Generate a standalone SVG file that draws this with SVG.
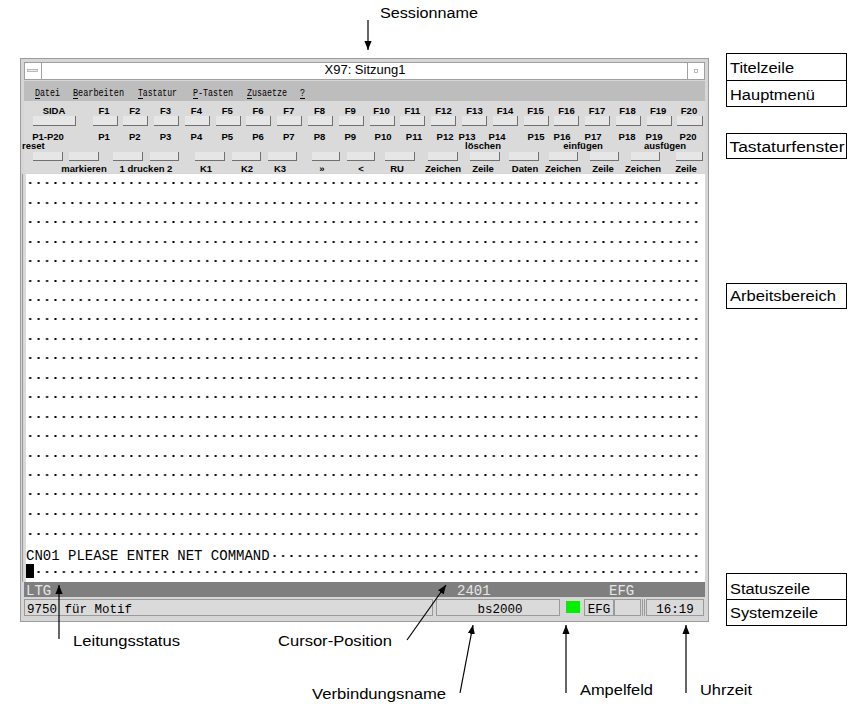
<svg xmlns="http://www.w3.org/2000/svg" width="852" height="704" viewBox="0 0 852 704">
<defs>
<style>
.lbl{font-family:"Liberation Sans",Arial,sans-serif;font-size:14px;fill:#000}
.box{fill:#fff;stroke:#000;stroke-width:1}
.menu{font-family:"Liberation Mono","DejaVu Sans Mono",monospace;font-size:11px;fill:#000}
.key{font-family:"Liberation Sans",Arial,sans-serif;font-size:9.5px;font-weight:bold;fill:#000;text-anchor:middle}
.term{font-family:"Liberation Mono","DejaVu Sans Mono",monospace;font-size:14px}
.sys{font-family:"Liberation Mono","DejaVu Sans Mono",monospace;font-size:12.5px;fill:#000}
.bd{fill:#707070}
.bf{fill:#e6e6e6}
.fld{fill:#dadada;stroke:#9a9a9a;stroke-width:1}
.conn{stroke:#000;stroke-width:1.2;fill:none;marker-end:url(#ah)}
</style>
<marker id="ah" viewBox="0 0 10 8" refX="10" refY="4" markerWidth="9" markerHeight="7.2" markerUnits="userSpaceOnUse" orient="auto">
<path d="M0,0 L10,4 L0,8 z" fill="#000"/>
</marker>
<pattern id="col" patternUnits="userSpaceOnUse" x="26" y="0" width="8.43" height="1">
<rect x="3.2" y="0" width="2" height="1" fill="#000"/>
</pattern>
</defs>
<rect width="852" height="704" fill="#fff"/>

<g id="window">
<rect x="20.5" y="58.5" width="688" height="563" fill="#d6d6d6" stroke="#9c9c9c"/>
<rect x="24.5" y="62.5" width="680" height="17" fill="#fff" stroke="#a0a0a0"/>
<rect x="24.5" y="62.5" width="17" height="17" fill="#fff" stroke="#a0a0a0"/>
<rect x="27.5" y="69.5" width="10" height="2" fill="#eee" stroke="#aaa" stroke-width="0.8"/>
<rect x="687.5" y="62.5" width="17" height="17" fill="#fff" stroke="#a0a0a0"/>
<rect x="694.5" y="69.5" width="3" height="3" fill="#fff" stroke="#aaa" stroke-width="0.8"/>
<text x="365" y="74" font-family="Liberation Sans, Arial, sans-serif" font-size="13" text-anchor="middle">X97: Sitzung1</text>
<rect x="24" y="81" width="681" height="20" fill="#bdbdbd"/>
<text class="menu" x="35" y="96" textLength="25" lengthAdjust="spacingAndGlyphs">Datei</text>
<text class="menu" x="73" y="96" textLength="51" lengthAdjust="spacingAndGlyphs">Bearbeiten</text>
<text class="menu" x="138" y="96" textLength="39" lengthAdjust="spacingAndGlyphs">Tastatur</text>
<text class="menu" x="193" y="96" textLength="40" lengthAdjust="spacingAndGlyphs">P-Tasten</text>
<text class="menu" x="247" y="96" textLength="40" lengthAdjust="spacingAndGlyphs">Zusaetze</text>
<text class="menu" x="300" y="96" textLength="5" lengthAdjust="spacingAndGlyphs">?</text>
<path d="M35,98.5h5M73,98.5h5M138,98.5h5M193,98.5h5M247,98.5h5M300,98.5h5" stroke="#000" stroke-width="1"/>
<rect x="24" y="101" width="681" height="72" fill="#dadada"/>
<g id="keys-row1">
<text class="key" x="54" y="113.5">SIDA</text>
<text class="key" x="104" y="113.5">F1</text>
<text class="key" x="134.8" y="113.5">F2</text>
<text class="key" x="165.6" y="113.5">F3</text>
<text class="key" x="196.4" y="113.5">F4</text>
<text class="key" x="227.2" y="113.5">F5</text>
<text class="key" x="258" y="113.5">F6</text>
<text class="key" x="288.7" y="113.5">F7</text>
<text class="key" x="319.5" y="113.5">F8</text>
<text class="key" x="350.3" y="113.5">F9</text>
<text class="key" x="381.5" y="113.5">F10</text>
<text class="key" x="412.5" y="113.5">F11</text>
<text class="key" x="443.5" y="113.5">F12</text>
<text class="key" x="474.5" y="113.5">F13</text>
<text class="key" x="505" y="113.5">F14</text>
<text class="key" x="535.5" y="113.5">F15</text>
<text class="key" x="566.5" y="113.5">F16</text>
<text class="key" x="597" y="113.5">F17</text>
<text class="key" x="627.5" y="113.5">F18</text>
<text class="key" x="658.2" y="113.5">F19</text>
<text class="key" x="689" y="113.5">F20</text>
<rect class="bd" x="33" y="116" width="43" height="10"/><rect class="bf" x="33" y="116" width="42" height="9"/>
<rect class="bd" x="93" y="116" width="25" height="10"/><rect class="bf" x="93" y="116" width="24" height="9"/>
<rect class="bd" x="123" y="116" width="25" height="10"/><rect class="bf" x="123" y="116" width="24" height="9"/>
<rect class="bd" x="154" y="116" width="25" height="10"/><rect class="bf" x="154" y="116" width="24" height="9"/>
<rect class="bd" x="185" y="116" width="25" height="10"/><rect class="bf" x="185" y="116" width="24" height="9"/>
<rect class="bd" x="216" y="116" width="25" height="10"/><rect class="bf" x="216" y="116" width="24" height="9"/>
<rect class="bd" x="246" y="116" width="25" height="10"/><rect class="bf" x="246" y="116" width="24" height="9"/>
<rect class="bd" x="277" y="116" width="25" height="10"/><rect class="bf" x="277" y="116" width="24" height="9"/>
<rect class="bd" x="308" y="116" width="25" height="10"/><rect class="bf" x="308" y="116" width="24" height="9"/>
<rect class="bd" x="339" y="116" width="25" height="10"/><rect class="bf" x="339" y="116" width="24" height="9"/>
<rect class="bd" x="370" y="116" width="25" height="10"/><rect class="bf" x="370" y="116" width="24" height="9"/>
<rect class="bd" x="400" y="116" width="25" height="10"/><rect class="bf" x="400" y="116" width="24" height="9"/>
<rect class="bd" x="431" y="116" width="25" height="10"/><rect class="bf" x="431" y="116" width="24" height="9"/>
<rect class="bd" x="462" y="116" width="25" height="10"/><rect class="bf" x="462" y="116" width="24" height="9"/>
<rect class="bd" x="493" y="116" width="25" height="10"/><rect class="bf" x="493" y="116" width="24" height="9"/>
<rect class="bd" x="524" y="116" width="25" height="10"/><rect class="bf" x="524" y="116" width="24" height="9"/>
<rect class="bd" x="554" y="116" width="25" height="10"/><rect class="bf" x="554" y="116" width="24" height="9"/>
<rect class="bd" x="585" y="116" width="25" height="10"/><rect class="bf" x="585" y="116" width="24" height="9"/>
<rect class="bd" x="616" y="116" width="25" height="10"/><rect class="bf" x="616" y="116" width="24" height="9"/>
<rect class="bd" x="647" y="116" width="25" height="10"/><rect class="bf" x="647" y="116" width="24" height="9"/>
<rect class="bd" x="677" y="116" width="26" height="10"/><rect class="bf" x="677" y="116" width="25" height="9"/>
</g>
<g id="keys-row2">
<text class="key" x="48" y="139.5">P1-P20</text>
<text class="key" x="104" y="139.5">P1</text>
<text class="key" x="134.8" y="139.5">P2</text>
<text class="key" x="165.6" y="139.5">P3</text>
<text class="key" x="196.4" y="139.5">P4</text>
<text class="key" x="227.2" y="139.5">P5</text>
<text class="key" x="258" y="139.5">P6</text>
<text class="key" x="288.7" y="139.5">P7</text>
<text class="key" x="319.5" y="139.5">P8</text>
<text class="key" x="350.3" y="139.5">P9</text>
<text class="key" x="383" y="139.5">P10</text>
<text class="key" x="414" y="139.5">P11</text>
<text class="key" x="445" y="139.5">P12</text>
<text class="key" x="467" y="139.5">P13</text>
<text class="key" x="497" y="139.5">P14</text>
<text class="key" x="536" y="139.5">P15</text>
<text class="key" x="562" y="139.5">P16</text>
<text class="key" x="593" y="139.5">P17</text>
<text class="key" x="627" y="139.5">P18</text>
<text class="key" x="654" y="139.5">P19</text>
<text class="key" x="688" y="139.5">P20</text>
<text class="key" x="22" y="149" style="text-anchor:start">reset</text>
<text class="key" x="483" y="149">löschen</text>
<text class="key" x="583" y="149">einfügen</text>
<text class="key" x="665" y="149">ausfügen</text>
<rect class="bd" x="33" y="152" width="30" height="9"/><rect class="bf" x="33" y="152" width="29" height="8"/>
<rect class="bd" x="69" y="152" width="30" height="9"/><rect class="bf" x="69" y="152" width="29" height="8"/>
<rect class="bd" x="113" y="152" width="30" height="9"/><rect class="bf" x="113" y="152" width="29" height="8"/>
<rect class="bd" x="150" y="152" width="29" height="9"/><rect class="bf" x="150" y="152" width="28" height="8"/>
<rect class="bd" x="195" y="152" width="30" height="9"/><rect class="bf" x="195" y="152" width="29" height="8"/>
<rect class="bd" x="232" y="152" width="29" height="9"/><rect class="bf" x="232" y="152" width="28" height="8"/>
<rect class="bd" x="268" y="152" width="29" height="9"/><rect class="bf" x="268" y="152" width="28" height="8"/>
<rect class="bd" x="312" y="152" width="28" height="9"/><rect class="bf" x="312" y="152" width="27" height="8"/>
<rect class="bd" x="347" y="152" width="28" height="9"/><rect class="bf" x="347" y="152" width="27" height="8"/>
<rect class="bd" x="385" y="152" width="30" height="9"/><rect class="bf" x="385" y="152" width="29" height="8"/>
<rect class="bd" x="428" y="152" width="30" height="9"/><rect class="bf" x="428" y="152" width="29" height="8"/>
<rect class="bd" x="470" y="152" width="30" height="9"/><rect class="bf" x="470" y="152" width="29" height="8"/>
<rect class="bd" x="509" y="152" width="30" height="9"/><rect class="bf" x="509" y="152" width="29" height="8"/>
<rect class="bd" x="549" y="152" width="29" height="9"/><rect class="bf" x="549" y="152" width="28" height="8"/>
<rect class="bd" x="590" y="152" width="29" height="9"/><rect class="bf" x="590" y="152" width="28" height="8"/>
<rect class="bd" x="631" y="152" width="29" height="9"/><rect class="bf" x="631" y="152" width="28" height="8"/>
<rect class="bd" x="676" y="152" width="27" height="9"/><rect class="bf" x="676" y="152" width="26" height="8"/>
</g>
<g id="keys-row3">
<text class="key" x="84" y="171.5">markieren</text>
<text class="key" x="146" y="171.5">1 drucken 2</text>
<text class="key" x="206" y="171.5">K1</text>
<text class="key" x="247" y="171.5">K2</text>
<text class="key" x="280" y="171.5">K3</text>
<text class="key" x="322" y="171.5">»</text>
<text class="key" x="361" y="171.5">&lt;</text>
<text class="key" x="397" y="171.5">RU</text>
<text class="key" x="443" y="171.5">Zeichen</text>
<text class="key" x="483" y="171.5">Zeile</text>
<text class="key" x="525" y="171.5">Daten</text>
<text class="key" x="563" y="171.5">Zeichen</text>
<text class="key" x="603" y="171.5">Zeile</text>
<text class="key" x="643" y="171.5">Zeichen</text>
<text class="key" x="686" y="171.5">Zeile</text>
</g>
<rect x="24" y="174" width="681" height="408" fill="#fff"/>
<line x1="22.5" y1="174" x2="22.5" y2="582" stroke="#9a9a9a"/>
<line x1="25" y1="174" x2="25" y2="582" stroke="#b5b5b5"/>
<g id="dots" fill="url(#col)">
<rect x="26" y="182" width="674.4" height="2"/>
<rect x="26" y="202" width="674.4" height="2"/>
<rect x="26" y="221" width="674.4" height="2"/>
<rect x="26" y="241" width="674.4" height="2"/>
<rect x="26" y="260" width="674.4" height="2"/>
<rect x="26" y="280" width="674.4" height="2"/>
<rect x="26" y="299" width="674.4" height="2"/>
<rect x="26" y="318" width="674.4" height="2"/>
<rect x="26" y="338" width="674.4" height="2"/>
<rect x="26" y="357" width="674.4" height="2"/>
<rect x="26" y="377" width="674.4" height="2"/>
<rect x="26" y="396" width="674.4" height="2"/>
<rect x="26" y="416" width="674.4" height="2"/>
<rect x="26" y="435" width="674.4" height="2"/>
<rect x="26" y="455" width="674.4" height="2"/>
<rect x="26" y="474" width="674.4" height="2"/>
<rect x="26" y="493" width="674.4" height="2"/>
<rect x="26" y="513" width="674.4" height="2"/>
<rect x="26" y="533" width="674.4" height="2"/>
<rect x="270.47" y="555" width="429.93" height="2"/>
<rect x="34.43" y="571" width="665.97" height="2"/>
</g>
<text class="term" x="26" y="560" fill="#000">CN01 PLEASE ENTER NET COMMAND</text>
<rect x="26" y="564" width="8" height="14" fill="#000"/>
<rect x="24" y="582" width="681" height="15" fill="#7f7f7f"/>
<text class="term" x="26" y="595" fill="#e6e6e6">LTG</text>
<text class="term" x="457" y="595" fill="#e6e6e6">2401</text>
<text class="term" x="609" y="595" fill="#e6e6e6">EFG</text>
<rect x="24" y="597" width="681" height="21" fill="#d6d6d6"/>
<rect class="fld" x="24.5" y="599.5" width="408" height="16"/>
<rect class="fld" x="436.5" y="599.5" width="123" height="16"/>
<rect x="566" y="601" width="14" height="12" fill="#00f000"/>
<rect class="fld" x="584.5" y="599.5" width="29" height="16"/>
<rect class="fld" x="614.5" y="599.5" width="26" height="16"/>
<line x1="642.5" y1="599" x2="642.5" y2="616" stroke="#9a9a9a"/>
<line x1="644.5" y1="599" x2="644.5" y2="616" stroke="#9a9a9a"/>
<rect class="fld" x="646.5" y="599.5" width="57" height="16"/>
<text class="sys" x="27" y="613">9750 für Motif</text>
<text class="sys" x="500" y="613" text-anchor="middle">bs2000</text>
<text class="sys" x="599" y="613" text-anchor="middle">EFG</text>
<text class="sys" x="675" y="613" text-anchor="middle">16:19</text>
</g>

<g id="label-titelzeile"><rect class="box" x="726.5" y="53.5" width="120" height="27"/><text class="lbl" x="730" y="73" textLength="64" lengthAdjust="spacingAndGlyphs">Titelzeile</text></g>
<g id="label-hauptmenue"><rect class="box" x="726.5" y="80.5" width="120" height="26"/><text class="lbl" x="730" y="100" textLength="85" lengthAdjust="spacingAndGlyphs">Hauptmenü</text></g>
<g id="label-tastaturfenster"><rect class="box" x="726.5" y="133.5" width="120" height="25"/><text class="lbl" x="729.5" y="152" textLength="115" lengthAdjust="spacingAndGlyphs">Tastaturfenster</text></g>
<g id="label-arbeitsbereich"><rect class="box" x="726.5" y="283.5" width="120" height="25"/><text class="lbl" x="730" y="301" textLength="106" lengthAdjust="spacingAndGlyphs">Arbeitsbereich</text></g>
<g id="label-statuszeile"><rect class="box" x="726.5" y="573.5" width="120" height="26"/><text class="lbl" x="730" y="594" textLength="80" lengthAdjust="spacingAndGlyphs">Statuszeile</text></g>
<g id="label-systemzeile"><rect class="box" x="726.5" y="599.5" width="120" height="26"/><text class="lbl" x="730" y="618" textLength="88" lengthAdjust="spacingAndGlyphs">Systemzeile</text></g>

<g id="label-sessionname"><text class="lbl" x="380" y="18" textLength="98" lengthAdjust="spacingAndGlyphs">Sessionname</text></g>
<g id="label-leitungsstatus"><text class="lbl" x="73" y="646" textLength="107" lengthAdjust="spacingAndGlyphs">Leitungsstatus</text></g>
<g id="label-cursor"><text class="lbl" x="278" y="646" textLength="114" lengthAdjust="spacingAndGlyphs">Cursor-Position</text></g>
<g id="label-verbindungsname"><text class="lbl" x="312" y="699" textLength="134" lengthAdjust="spacingAndGlyphs">Verbindungsname</text></g>
<g id="label-ampelfeld"><text class="lbl" x="580" y="695" textLength="73" lengthAdjust="spacingAndGlyphs">Ampelfeld</text></g>
<g id="label-uhrzeit"><text class="lbl" x="700" y="695" textLength="52" lengthAdjust="spacingAndGlyphs">Uhrzeit</text></g>

<g id="connectors">
<line class="conn" x1="368" y1="20" x2="368" y2="50"/>
<line class="conn" x1="59" y1="639" x2="59" y2="585"/>
<line class="conn" x1="407" y1="640" x2="446" y2="585"/>
<line class="conn" x1="460" y1="693" x2="473" y2="625"/>
<line class="conn" x1="566" y1="693" x2="566" y2="625"/>
<line class="conn" x1="686" y1="693" x2="686" y2="625"/>
</g>
</svg>
